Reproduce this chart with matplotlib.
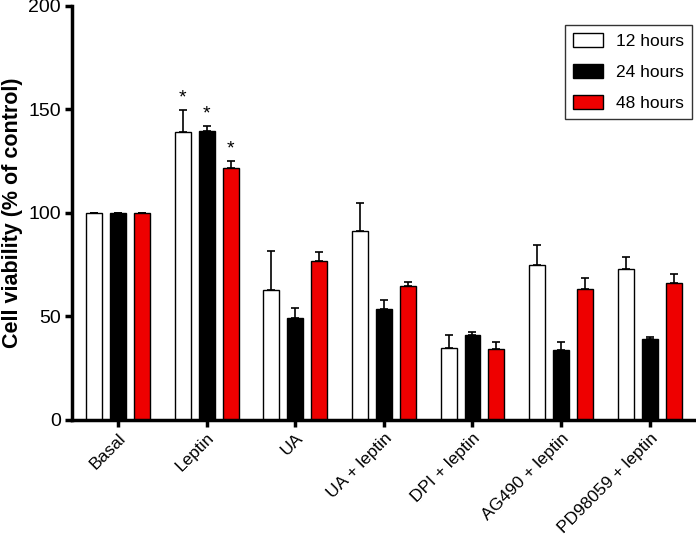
#!/usr/bin/env python3
"""Cell viability bar chart: 12/24/48 hour treatments."""

import matplotlib
matplotlib.use("Agg")
import matplotlib.pyplot as plt
import numpy as np

plt.rcParams["font.family"] = ["Liberation Sans", "DejaVu Sans"]

# ---------------------------------------------------------------------------
# Data
# ---------------------------------------------------------------------------
groups = ["Basal", "Leptin", "UA", "UA + leptin", "DPI + leptin",
          "AG490 + leptin", "PD98059 + leptin"]
series = ["12 hours", "24 hours", "48 hours"]

h12 = [100, 139.3, 62.7, 91.5, 34.8, 74.9, 72.9]
h24 = [100, 139.6, 49.1, 53.6, 41.1, 33.8, 39.1]
h48 = [100, 121.9, 77.0, 64.7, 34.3, 63.4, 66.0]

err12 = [0, 10.5, 18.8, 13.3, 6.0, 9.6, 5.8]
err24 = [0, 2.6, 5.0, 4.4, 1.3, 3.7, 0.9]
err48 = [0, 3.2, 4.0, 1.8, 3.5, 5.3, 4.4]

# significance stars: (group index, series index)
stars = [(1, 0), (1, 1), (1, 2)]

colors = ["white", "black", "#ee0000"]

# ---------------------------------------------------------------------------
# Plot
# ---------------------------------------------------------------------------
fig = plt.figure(figsize=(6.96, 5.37), dpi=100)
ax = fig.add_axes([0.1034, 0.218, 0.895, 0.771])

x = np.arange(len(groups))
width = 0.18
offset = 0.27
values = [h12, h24, h48]
errors = [err12, err24, err48]

for i, (vals, errs) in enumerate(zip(values, errors)):
    pos = x + (i - 1) * offset
    ax.bar(pos, vals, width, color=colors[i], edgecolor="black",
           linewidth=1.0, label=series[i], zorder=2)
    yerr = np.vstack([np.zeros(len(errs)), errs])
    ax.errorbar(pos, vals, yerr=yerr, fmt="none", ecolor="black",
                elinewidth=1.2, capsize=3, capthick=1.2, zorder=1)

for g, s in stars:
    top = values[s][g] + errors[s][g]
    ax.text(x[g] + (s - 1) * offset, top + 1.5, "*", ha="center",
            va="bottom", fontsize=14)

ax.set_xlim(-0.52, 6.51)
ax.set_ylim(0, 200)
ax.set_yticks([0, 50, 100, 150, 200])
ax.set_xticks(x)
ax.set_xticklabels(groups, rotation=45, ha="right", rotation_mode="anchor",
                   fontsize=12.5)
ax.tick_params(axis="y", labelsize=14, width=2.5, length=5, pad=3)
ax.tick_params(axis="x", width=2.5, length=5, pad=2.5)
ax.set_ylabel("Cell viability (% of control)", fontsize=15.5,
              fontweight="bold", labelpad=4)

for side in ["top", "right"]:
    ax.spines[side].set_visible(False)
for side in ["left", "bottom"]:
    ax.spines[side].set_linewidth(2.5)

leg = ax.legend(loc="upper right", bbox_to_anchor=(0.995, 0.954),
                borderaxespad=0, fontsize=12.5, frameon=True, fancybox=False,
                edgecolor="black", handlelength=1.75, handleheight=0.9,
                labelspacing=0.85, borderpad=0.45, handletextpad=0.75)
leg.get_frame().set_linewidth(1.0)

plt.savefig("out.png", dpi=100)
plt.close()
